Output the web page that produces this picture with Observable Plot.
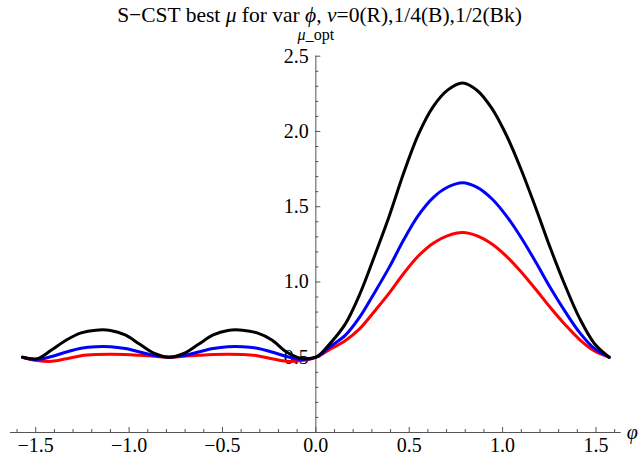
<!DOCTYPE html>
<html><head><meta charset="utf-8">
<script src="https://cdn.jsdelivr.net/npm/d3@7"></script>
<script src="https://cdn.jsdelivr.net/npm/@observablehq/plot@0.6"></script>
<style>
body{margin:0;background:#fff;}
#title{width:639px;height:30px;line-height:30px;text-align:center;font-family:"Liberation Serif","Times New Roman",serif;font-size:21.5px;color:#000;white-space:nowrap;}
</style></head><body>
<div id="title">S−CST best <i>μ</i> for var <i>ϕ</i>, <i>ν</i>=0(R),1/4(B),1/2(Bk)</div>
<div id="chart"></div>
<script>
const phi = [-1.5708,-1.4923,-1.4137,-1.3352,-1.2566,-1.1781,-1.0996,-1.0210,-0.9425,-0.8639,-0.7854,-0.7069,-0.6283,-0.5498,-0.4712,-0.3927,-0.3142,-0.2356,-0.1571,-0.0785,0,0.0785,0.1571,0.2356,0.3142,0.3927,0.4712,0.5498,0.6283,0.7069,0.7854,0.8639,0.9425,1.0210,1.0996,1.1781,1.2566,1.3352,1.4137,1.4923,1.5708];
const muR = [0.50,0.478,0.473,0.49,0.51,0.518,0.520,0.518,0.513,0.507,0.50,0.507,0.513,0.518,0.520,0.518,0.51,0.49,0.473,0.478,0.50,0.555,0.61,0.69,0.806,0.926,1.058,1.174,1.258,1.308,1.328,1.306,1.252,1.170,1.067,0.950,0.829,0.716,0.616,0.541,0.50];
const muB = [0.50,0.485,0.505,0.535,0.560,0.570,0.570,0.558,0.535,0.512,0.50,0.512,0.535,0.558,0.570,0.570,0.560,0.535,0.505,0.485,0.50,0.572,0.645,0.768,0.929,1.097,1.282,1.444,1.561,1.631,1.66,1.629,1.553,1.438,1.294,1.131,0.96,0.803,0.662,0.557,0.50];
const muBk = [0.50,0.49,0.55,0.615,0.662,0.680,0.678,0.648,0.586,0.525,0.50,0.525,0.586,0.648,0.678,0.680,0.662,0.615,0.535,0.493,0.50,0.595,0.72,0.92,1.173,1.437,1.727,1.982,2.165,2.276,2.322,2.272,2.153,1.973,1.746,1.49,1.222,0.975,0.755,0.59,0.50];

const xMajorTicks = [-1.5,-1.0,-0.5,0.0,0.5,1.0,1.5];
const xTickLabels = ["−1.5","−1.0","−0.5","0.0","0.5","1.0","1.5"];
const xMinorTicks = [-1.6,-1.4,-1.3,-1.2,-1.1,-0.9,-0.8,-0.7,-0.6,-0.4,-0.3,-0.2,-0.1,0.1,0.2,0.3,0.4,0.6,0.7,0.8,0.9,1.1,1.2,1.3,1.4,1.6];
const yMajorTicks = [0.5,1.0,1.5,2.0,2.5];
const yTickLabels = ["0.5","1.0","1.5","2.0","2.5"];
const yMinorTicks = [0.1,0.2,0.3,0.4,0.6,0.7,0.8,0.9,1.1,1.2,1.3,1.4,1.6,1.7,1.8,1.9,2.1,2.2,2.3,2.4];

const series = [
  {name: "ν=0", color: "#ff0000", values: muR},
  {name: "ν=1/4", color: "#0000ff", values: muB},
  {name: "ν=1/2", color: "#000000", values: muBk}
];
const rows = series.flatMap(s => phi.map((p, i) => ({phi: p, mu: s.values[i], name: s.name, color: s.color})));

const W = 639, H = 431, mT = 25.7, mB = 29, mL = 10, mR = 18.3;
const xDom = [-1.635, 1.635], yDom = [0, 2.5];
const pxY = (H - mT - mB) / (yDom[1] - yDom[0]);
const pxX = (W - mL - mR) / (xDom[1] - xDom[0]);
const axisColor = "#555";
const font = "Liberation Serif, Times New Roman, serif";

const chart = Plot.plot({
  width: W, height: H,
  marginTop: mT, marginBottom: mB, marginLeft: mL, marginRight: mR,
  x: {domain: xDom, axis: null},
  y: {domain: yDom, axis: null},
  style: {fontFamily: font, background: "#fff", overflow: "visible"},
  marks: [
    Plot.ruleY([0], {x1: xDom[0], x2: xDom[1], stroke: axisColor, strokeWidth: 1}),
    Plot.ruleX([0], {y1: 0, y2: 2.5, stroke: axisColor, strokeWidth: 1}),
    Plot.ruleX(xMajorTicks, {x: d => d, y1: 0, y2: 5 / pxY, stroke: axisColor}),
    Plot.ruleX(xMinorTicks, {x: d => d, y1: 0, y2: 3 / pxY, stroke: axisColor}),
    Plot.ruleY(yMajorTicks, {y: d => d, x1: 0, x2: 5 / pxX, stroke: axisColor}),
    Plot.ruleY(yMinorTicks, {y: d => d, x1: 0, x2: 3 / pxX, stroke: axisColor}),
    Plot.text(xMajorTicks, {x: d => d, y: 0, text: (d, i) => xTickLabels[i], dy: 13, fontSize: 20, fill: "#000"}),
    Plot.text(yMajorTicks, {x: 0, y: d => d, text: (d, i) => yTickLabels[i], dx: -7, textAnchor: "end", fontSize: 20, fill: "#000"}),
    Plot.text(["μ_opt"], {x: 0, y: 2.5, dy: -21, fontSize: 16, fill: "#000"}),
    Plot.text(["φ"], {x: xDom[1], y: 0, dx: 11, fontSize: 20, fontStyle: "italic", fill: "#000"}),
    Plot.line(rows, {x: "phi", y: "mu", z: "name", stroke: "color", strokeWidth: 3, curve: "catmull-rom"})
  ]
});
document.getElementById("chart").appendChild(chart);
chart.querySelectorAll("text").forEach(t => {
  if (t.textContent === "μ_opt") {
    t.textContent = "";
    const ns = "http://www.w3.org/2000/svg";
    const a = document.createElementNS(ns, "tspan"); a.setAttribute("font-style", "italic"); a.textContent = "μ";
    const b = document.createElementNS(ns, "tspan"); b.textContent = "_opt";
    t.appendChild(a); t.appendChild(b);
  }
});
</script>
</body></html>
